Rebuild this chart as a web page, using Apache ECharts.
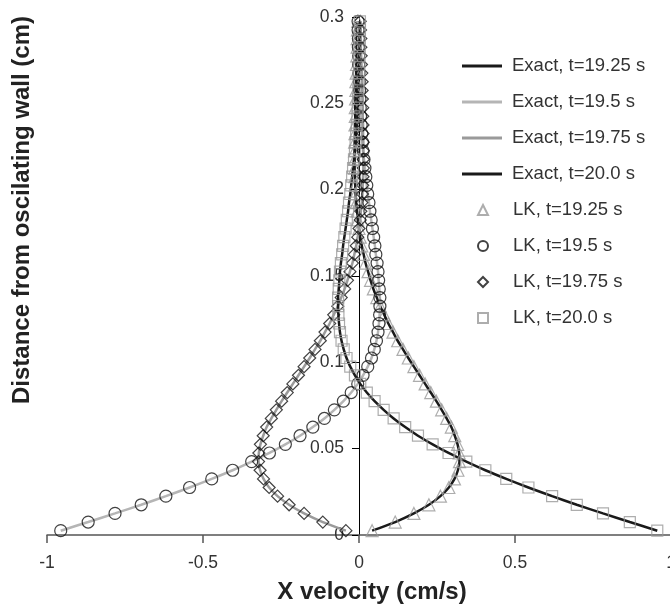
<!DOCTYPE html>
<html>
<head>
<meta charset="utf-8">
<script src="https://cdn.jsdelivr.net/npm/echarts@6/dist/echarts.min.js"></script>
<style>
  html, body { margin: 0; padding: 0; background: #fff; }
  #chart { width: 670px; height: 611px; }
</style>
</head>
<body>
<div id="chart"></div>
<script>
// distance from wall (cm), one entry per node
const yPos = [
  0.0025, 0.0075, 0.0125, 0.0175, 0.0225, 0.0275, 0.0325, 0.0375, 0.0425, 0.0475,
  0.0525, 0.0575, 0.0625, 0.0675, 0.0725, 0.0775, 0.0825, 0.0875, 0.0925, 0.0975,
  0.1025, 0.1075, 0.1125, 0.1175, 0.1225, 0.1275, 0.1325, 0.1375, 0.1425, 0.1475,
  0.1525, 0.1575, 0.1625, 0.1675, 0.1725, 0.1775, 0.1825, 0.1875, 0.1925, 0.1975,
  0.2025, 0.2075, 0.2125, 0.2175, 0.2225, 0.2275, 0.2325, 0.2375, 0.2425, 0.2475,
  0.2525, 0.2575, 0.2625, 0.2675, 0.2725, 0.2775, 0.2825, 0.2875, 0.2925, 0.2975
];

// x velocity (cm/s) at each node
const u1925 = [
  0.042, 0.116, 0.176, 0.224, 0.261, 0.288, 0.306, 0.317, 0.322, 0.321,
  0.316, 0.307, 0.296, 0.281, 0.265, 0.248, 0.230, 0.212, 0.194, 0.176,
  0.158, 0.141, 0.124, 0.109, 0.094, 0.081, 0.068, 0.057, 0.046, 0.037,
  0.029, 0.021, 0.015, 0.009, 0.004, 0.000, -0.004, -0.006, -0.009, -0.011,
  -0.012, -0.013, -0.014, -0.014, -0.014, -0.014, -0.013, -0.013, -0.012, -0.012,
  -0.011, -0.010, -0.010, -0.009, -0.008, -0.007, -0.006, -0.006, -0.005, -0.004
];
const u195 = [
  -0.956, -0.868, -0.782, -0.698, -0.619, -0.543, -0.472, -0.405, -0.344, -0.287,
  -0.236, -0.189, -0.148, -0.111, -0.079, -0.050, -0.025, -0.004, 0.013, 0.028,
  0.040, 0.049, 0.056, 0.061, 0.064, 0.066, 0.067, 0.067, 0.065, 0.063,
  0.061, 0.058, 0.054, 0.051, 0.047, 0.043, 0.039, 0.035, 0.032, 0.028,
  0.025, 0.022, 0.019, 0.016, 0.013, 0.011, 0.009, 0.007, 0.005, 0.004,
  0.003, 0.002, 0.001, 0.000, -0.001, -0.001, -0.002, -0.002, -0.003, -0.003
];
const u1975 = [
  -0.042, -0.116, -0.176, -0.224, -0.261, -0.288, -0.306, -0.317, -0.322, -0.321,
  -0.316, -0.307, -0.296, -0.281, -0.265, -0.248, -0.230, -0.212, -0.194, -0.176,
  -0.158, -0.141, -0.124, -0.109, -0.094, -0.081, -0.068, -0.057, -0.046, -0.037,
  -0.029, -0.021, -0.015, -0.009, -0.004, 0.000, 0.004, 0.006, 0.009, 0.011,
  0.012, 0.013, 0.014, 0.014, 0.014, 0.014, 0.013, 0.013, 0.012, 0.012,
  0.011, 0.010, 0.010, 0.009, 0.008, 0.007, 0.006, 0.006, 0.005, 0.004
];
const u20 = [
  0.956, 0.868, 0.782, 0.698, 0.619, 0.543, 0.472, 0.405, 0.344, 0.287,
  0.236, 0.189, 0.148, 0.111, 0.079, 0.050, 0.025, 0.004, -0.013, -0.028,
  -0.040, -0.049, -0.056, -0.061, -0.064, -0.066, -0.067, -0.067, -0.065, -0.063,
  -0.061, -0.058, -0.054, -0.051, -0.047, -0.043, -0.039, -0.035, -0.032, -0.028,
  -0.025, -0.022, -0.019, -0.016, -0.013, -0.011, -0.009, -0.007, -0.005, -0.004,
  -0.003, -0.002, -0.001, 0.000, 0.001, 0.001, 0.002, 0.002, 0.003, 0.003
];

const exactNames = ["Exact, t=19.25 s", "Exact, t=19.5 s", "Exact, t=19.75 s", "Exact, t=20.0 s"];
const lkNames = ["LK, t=19.25 s", "LK, t=19.5 s", "LK, t=19.75 s", "LK, t=20.0 s"];
const xTicks = [-1, -0.5, 0, 0.5, 1];

const FONT = "'Liberation Sans', Arial, sans-serif";

const GRID = { left: 47, right: -1, top: 17, bottom: 76 };
const plotW = 670 - GRID.left - GRID.right;

function pairs(xs) {
  return xs.map((x, i) => [x, yPos[i]]);
}

function exactLine(name, xs, color) {
  return {
    name: name,
    type: "line",
    data: pairs(xs),
    symbol: "none",
    showSymbol: false,
    smooth: 0.3,
    lineStyle: { color: color, width: 2.5 },
    itemStyle: { color: color },
    z: 2,
    animation: false
  };
}

function lkScatter(name, xs, symbol, size, stroke) {
  return {
    name: name,
    type: "scatter",
    data: pairs(xs),
    symbol: symbol,
    symbolSize: size,
    itemStyle: { color: "rgba(0,0,0,0)", borderColor: stroke, borderWidth: 1.2 },
    z: 3,
    animation: false
  };
}

const legendText = { fontFamily: FONT, fontSize: 18.5, color: "#333", lineHeight: 20 };

const chart = echarts.init(document.getElementById("chart"));

chart.setOption({
  backgroundColor: "#fff",
  animation: false,
  grid: Object.assign({ outerBoundsMode: "none", containLabel: false }, GRID),
  legend: [
    {
      orient: "vertical",
      left: 457,
      top: 51,
      itemWidth: 40,
      itemHeight: 3,
      itemGap: 16,
      icon: "rect",
      data: exactNames,
      textStyle: Object.assign({ padding: [0, 0, 0, 5] }, legendText)
    },
    {
      orient: "vertical",
      left: 472,
      top: 195,
      itemWidth: 10,
      itemHeight: 10,
      itemGap: 16,
      data: lkNames,
      textStyle: Object.assign({ padding: [0, 0, 0, 20] }, legendText)
    }
  ],
  xAxis: {
    type: "value",
    min: xTicks[0],
    max: xTicks[xTicks.length - 1],
    interval: 0.5,
    splitLine: { show: false },
    axisLine: { onZero: false, lineStyle: { color: "#555", width: 1.5 } },
    axisTick: { show: true, length: 8, lineStyle: { color: "#555", width: 1.5 } },
    axisLabel: { fontFamily: FONT, fontSize: 17.5, color: "#333", margin: 19 }
  },
  yAxis: {
    type: "value",
    min: 0,
    max: 0.3,
    interval: 0.05,
    // axis drawn at x = 0 (middle of the x range)
    offset: -plotW / 2,
    splitLine: { show: false },
    axisLine: { onZero: false, lineStyle: { color: "#000", width: 1 } },
    axisTick: { show: true, length: 7, lineStyle: { color: "#000", width: 1 } },
    axisLabel: { fontFamily: FONT, fontSize: 17.5, color: "#333", margin: 15 }
  },
  graphic: [
    {
      type: "text",
      x: 372,
      y: 592,
      style: {
        text: "X velocity (cm/s)",
        font: "bold 24px " + FONT,
        fill: "#222",
        textAlign: "center",
        textVerticalAlign: "middle"
      }
    },
    {
      type: "text",
      x: 22,
      y: 210,
      rotation: Math.PI / 2,
      style: {
        text: "Distance from oscilating wall (cm)",
        font: "bold 24px " + FONT,
        fill: "#222",
        textAlign: "center",
        textVerticalAlign: "middle"
      }
    }
  ],
  series: [
    exactLine(exactNames[0], u1925, "#1a1a1a"),
    exactLine(exactNames[1], u195, "#b5b5b5"),
    exactLine(exactNames[2], u1975, "#9a9a9a"),
    exactLine(exactNames[3], u20, "#1a1a1a"),
    lkScatter(lkNames[0], u1925, "triangle", 12, "#999"),
    lkScatter(lkNames[1], u195, "circle", 12, "#111"),
    lkScatter(lkNames[2], u1975, "diamond", 12, "#111"),
    lkScatter(lkNames[3], u20, "rect", 11, "#999")
  ]
});
</script>
</body>
</html>
